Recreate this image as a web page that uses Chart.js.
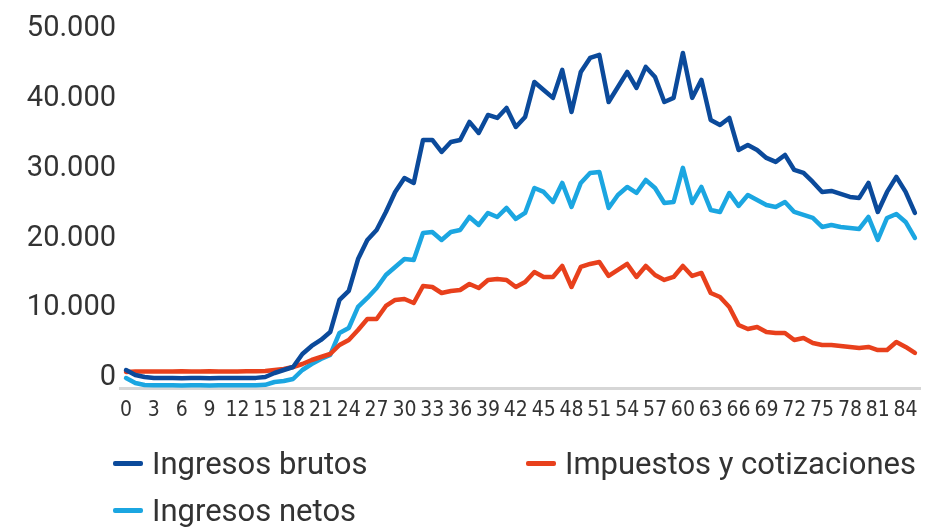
<!DOCTYPE html>
<html lang="es">
<head>
<meta charset="UTF-8">
<title>Ingresos por edad</title>
<script src="https://cdn.jsdelivr.net/npm/chart.js"></script>
<style>
  body { margin: 0; background: #fff; }
  #wrap { position: relative; width: 933px; height: 528px; }
  .leg { position: absolute; height: 32px; display: flex; align-items: center;
         font-family: Roboto, sans-serif; font-size: 31px; color: #333; white-space: nowrap; }
  .leg span { display: inline-block; width: 30px; height: 5px; border-radius: 2px; margin-right: 9px; }
</style>
</head>
<body>
<div id="wrap">
  <canvas id="chart" width="933" height="528"></canvas>
  <div class="leg" style="left:113px; top:447px;"><span style="background:#0b4a9b"></span>Ingresos brutos</div>
  <div class="leg" style="left:526px; top:447px;"><span style="background:#e8401c"></span>Impuestos y cotizaciones</div>
  <div class="leg" style="left:113px; top:494px;"><span style="background:#1ba6e1"></span>Ingresos netos</div>
</div>
<script>
// edad 0..85
var ages = [];
for (var i = 0; i <= 85; i++) ages.push(i);

var xTicks = [0, 3, 6, 9, 12, 15, 18, 21, 24, 27, 30, 33, 36, 39, 42, 45, 48, 51, 54, 57, 60, 63, 66, 69, 72, 75, 78, 81, 84];
var yTicks = [0, 10000, 20000, 30000, 40000, 50000];

var brutos = [
  2580, 1860, 1580, 1430, 1430, 1430, 1400, 1430, 1430, 1400,
  1430, 1430, 1430, 1430, 1450, 1580, 2150, 2580, 3010, 4870,
  6020, 6880, 8020, 12610, 13900, 18480, 21210, 22640, 25220, 28090,
  30090, 29380, 35540, 35540, 33820, 35250, 35540, 38120, 36540, 39120,
  38690, 40120, 37400, 38830, 43850, 42700, 41560, 45570, 39550, 45280,
  47290, 47720, 40980, 43130, 45280, 42990, 46000, 44560, 40980, 41560,
  48000, 41560, 44140, 38400, 37690, 38690, 34100, 34820, 34100, 32960,
  32390, 33390, 31240, 30810, 29520, 28090, 28230, 27800, 27370, 27230,
  29380, 25220, 28090, 30240, 28090, 25080
];

var netos = [
  1430, 720, 430, 400, 400, 400, 350, 400, 400, 350,
  400, 400, 400, 400, 400, 450, 860, 1000, 1290, 2580,
  3440, 4160, 4730, 7880, 8600, 11610, 12900, 14330, 16190, 17340,
  18480, 18340, 22210, 22350, 21210, 22350, 22640, 24500, 23360, 25080,
  24500, 25790, 24220, 25080, 28660, 28090, 26650, 29380, 25940, 29380,
  30810, 30950, 25790, 27650, 28800, 27940, 29800, 28660, 26510, 26650,
  31530, 26510, 28800, 25510, 25220, 27940, 26080, 27650, 26940, 26220,
  25940, 26650, 25220, 24790, 24360, 23070, 23360, 23070, 22930, 22780,
  24500, 21210, 24360, 24930, 23790, 21500
];

var impuestos = [
  2290, 2350, 2350, 2350, 2350, 2350, 2400, 2350, 2350, 2400,
  2350, 2350, 2350, 2400, 2400, 2450, 2580, 2720, 3010, 3440,
  4010, 4440, 4870, 6160, 6880, 8310, 9890, 9890, 11750, 12610,
  12750, 12180, 14620, 14470, 13610, 13900, 14040, 14900, 14330, 15480,
  15620, 15480, 14470, 15190, 16620, 15910, 15910, 17480, 14470, 17340,
  17770, 18050, 16050, 16910, 17770, 15910, 17480, 16190, 15480, 15910,
  17480, 16050, 16480, 13610, 13040, 11610, 9030, 8450, 8740, 8020,
  7880, 7880, 6880, 7160, 6450, 6160, 6160, 6020, 5880, 5730,
  5880, 5440, 5440, 6590, 5880, 5020
];

function pts(vals) {
  return ages.map(function (a, i) { return { x: a, y: vals[i] }; });
}

function fmt(v) {
  return String(v).replace(/\B(?=(\d{3})+(?!\d))/g, '.');
}

var ctx = document.getElementById('chart').getContext('2d');
var chart = new Chart(ctx, {
  type: 'line',
  data: {
    datasets: [
      { label: 'Ingresos brutos', data: pts(brutos), borderColor: '#0b4a9b', borderWidth: 4.5 },
      { label: 'Impuestos y cotizaciones', data: pts(impuestos), borderColor: '#e8401c', borderWidth: 4.5 },
      { label: 'Ingresos netos', data: pts(netos), borderColor: '#1ba6e1', borderWidth: 4.5 }
    ]
  },
  options: {
    responsive: false,
    animation: false,
    elements: { point: { radius: 0 }, line: { tension: 0, borderJoinStyle: 'round', borderCapStyle: 'round' } },
    layout: { padding: { top: 39, right: 13, bottom: 100, left: 0 } },
    plugins: { legend: { display: false }, tooltip: { enabled: false } },
    scales: {
      x: {
        type: 'linear',
        min: -0.65,
        max: 85.55,
        afterBuildTicks: function (scale) {
          scale.ticks = xTicks.map(function (v) { return { value: v }; });
        },
        afterFit: function (scale) { scale.height = 40; },
        grid: { display: true, drawOnChartArea: false, drawTicks: false, color: 'rgba(0,0,0,0)' },
        border: { display: true, color: '#d6d6d6', width: 3 },
        ticks: {
          padding: 10,
          maxRotation: 0,
          autoSkip: false,
          color: '#333',
          font: { family: '"Liberation Sans Narrow", "DejaVu Sans Condensed", sans-serif', size: 21 },
          callback: function (v) { return v; }
        }
      },
      y: {
        min: 0,
        max: 50000,
        afterBuildTicks: function (scale) {
          scale.ticks = yTicks.map(function (v) { return { value: v }; });
        },
        afterFit: function (scale) { scale.width = 120; },
        grid: { display: false, drawTicks: false },
        border: { display: false },
        ticks: {
          padding: 4,
          labelOffset: -10,
          color: '#333',
          font: { family: 'Roboto, sans-serif', size: 29 },
          callback: function (v) { return fmt(v); }
        }
      }
    }
  }
});
</script>
</body>
</html>
